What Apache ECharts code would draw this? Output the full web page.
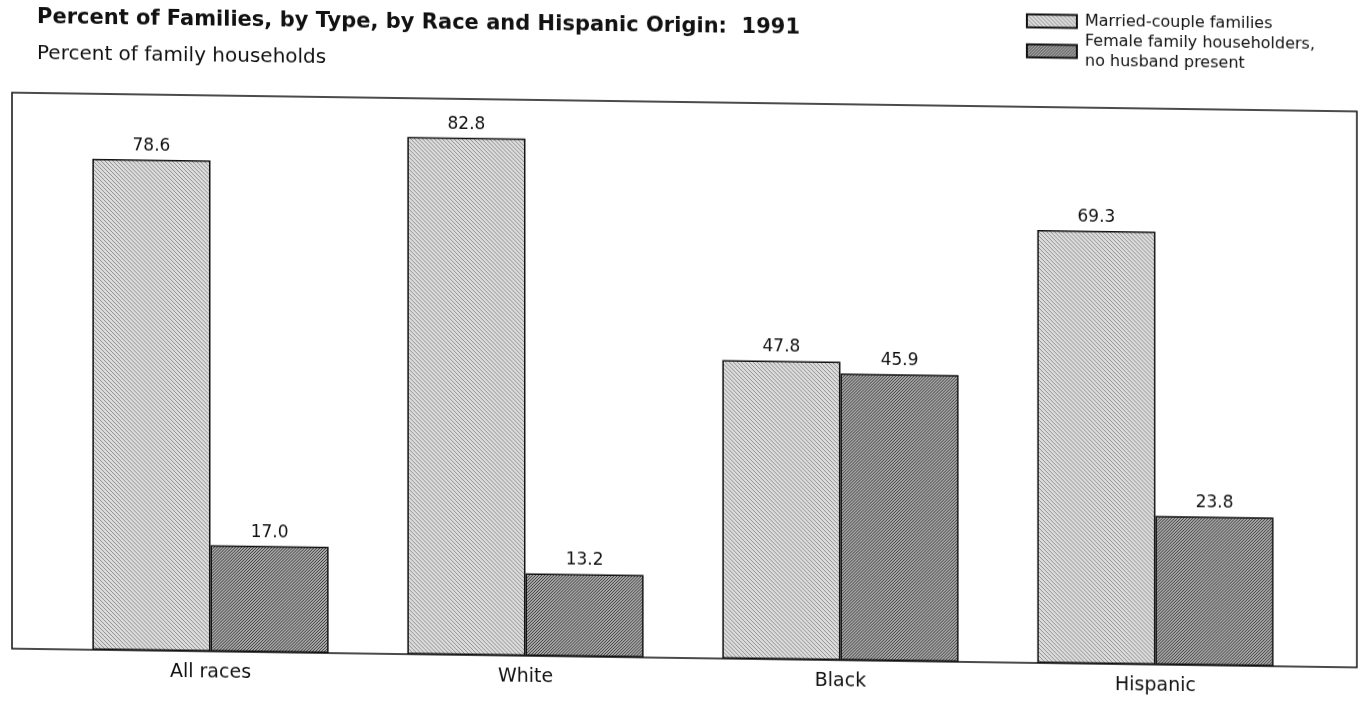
<!DOCTYPE html>
<html>
<head>
<meta charset="utf-8">
<script src="https://cdn.jsdelivr.net/npm/echarts@6/dist/echarts.min.js"></script>
<style>
  html, body { margin: 0; padding: 0; background: #fff; overflow: hidden; }
  /* the printed page was scanned a little crooked: horizontals slope, verticals stay upright */
  #mychart { width: 1364px; height: 701px; transform: skewY(0.8deg); transform-origin: 50% 50%; }
</style>
</head>
<body>
<div id="mychart"></div>
<script>
// data
const categories = ['All races', 'White', 'Black', 'Hispanic'];
const marriedCouple = [78.6, 82.8, 47.8, 69.3];
const femaleNoHusband = [17.0, 13.2, 45.9, 23.8];
const seriesNames = ['Married-couple families', 'Female family householders,\nno husband present'];

// hatch fill like the printed screen tone
function makePattern(bg, line, dir, step) {
    const c = document.createElement('canvas');
    c.width = step * 4;
    c.height = step * 4;
    const ctx = c.getContext('2d');
    ctx.fillStyle = bg;
    ctx.fillRect(0, 0, c.width, c.height);
    ctx.strokeStyle = line;
    ctx.lineWidth = 1;
    const n = c.width;
    for (let k = -n; k <= 2 * n; k += step) {
        ctx.beginPath();
        if (dir === '\\') {
            ctx.moveTo(k, 0);
            ctx.lineTo(k + n, n);
        } else {
            ctx.moveTo(k, n);
            ctx.lineTo(k + n, 0);
        }
        ctx.stroke();
    }
    return { image: c, repeat: 'repeat' };
}

const lightFill = makePattern('#dcdcdc', '#909090', '\\', 4);
const darkFill = makePattern('#a8a8a8', '#404040', '/', 3);

const font = '"DejaVu Sans", "Liberation Sans", sans-serif';

const myChart = echarts.init(document.getElementById('mychart'));

myChart.setOption({
    animation: false,
    textStyle: { fontFamily: font, color: '#111' },
    title: [
        {
            text: 'Percent of Families, by Type, by Race and Hispanic Origin:  1991',
            left: 32, top: 11,
            textStyle: { fontSize: 21, fontWeight: 'bold', color: '#111', fontFamily: font }
        },
        {
            text: 'Percent of family households',
            left: 32, top: 48,
            textStyle: { fontSize: 20, fontWeight: 'normal', color: '#111', fontFamily: font }
        }
    ],
    legend: {
        orient: 'vertical',
        left: 1021, top: 1,
        itemWidth: 50, itemHeight: 13,
        itemGap: 0,
        icon: 'rect',
        textStyle: { fontSize: 16, color: '#111', fontFamily: font, lineHeight: 20, padding: [0, 0, 0, 3] },
        data: seriesNames
    },
    grid: { left: 53, width: 1260, top: 102, bottom: 43, containLabel: false },
    xAxis: {
        type: 'category',
        data: categories,
        axisLine: { show: false },
        axisTick: { show: false },
        axisLabel: { fontSize: 19, color: '#111', margin: 12, fontFamily: font }
    },
    yAxis: {
        type: 'value',
        min: 0, max: 89,
        show: false,
        splitLine: { show: false }
    },
    graphic: [{
        type: 'rect',
        z: 0,
        shape: { x: 12, y: 102, width: 1345, height: 556 },
        style: { fill: 'none', stroke: '#111', lineWidth: 1.5 }
    }],
    series: [
        {
            name: seriesNames[0],
            type: 'bar',
            data: marriedCouple,
            barGap: '0%',
            barCategoryGap: '25%',
            itemStyle: { color: lightFill, borderColor: '#111', borderWidth: 1.5 },
            label: {
                show: true, position: 'top', distance: 5,
                fontSize: 17, color: '#111', fontFamily: font,
                formatter: p => p.value.toFixed(1)
            }
        },
        {
            name: seriesNames[1],
            type: 'bar',
            data: femaleNoHusband,
            itemStyle: { color: darkFill, borderColor: '#111', borderWidth: 1.5 },
            label: {
                show: true, position: 'top', distance: 5,
                fontSize: 17, color: '#111', fontFamily: font,
                formatter: p => p.value.toFixed(1)
            }
        }
    ]
});
</script>
</body>
</html>
